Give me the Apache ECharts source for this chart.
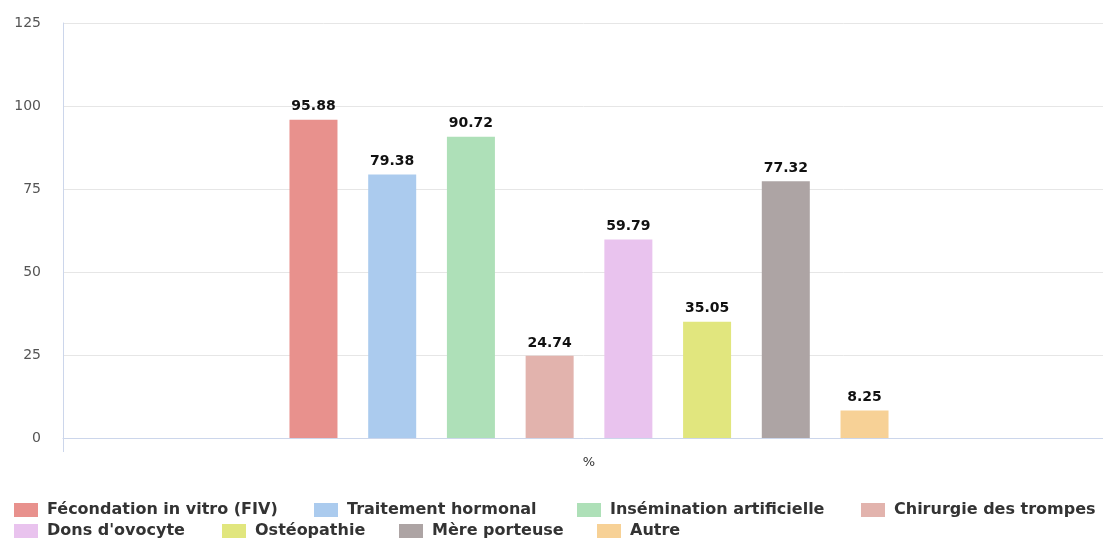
<!DOCTYPE html>
<html>
<head>
<meta charset="utf-8">
<script src="https://cdn.jsdelivr.net/npm/echarts@6/dist/echarts.min.js"></script>
<style>
  html, body { margin: 0; padding: 0; background: #fff; }
  #chart { width: 1103px; height: 541px; }
</style>
</head>
<body>
<div id="chart"></div>
<script>
var categories = ['%'];
var seriesNames = ['Fécondation in vitro (FIV)', 'Traitement hormonal', 'Insémination artificielle',
    'Chirurgie des trompes', "Dons d'ovocyte", 'Ostéopathie', 'Mère porteuse', 'Autre'];
var seriesValues = [95.88, 79.38, 90.72, 24.74, 59.79, 35.05, 77.32, 8.25];
var seriesColors = ['#e8918d', '#abcbee', '#aee0b8', '#e2b3ad', '#e9c3ee', '#e1e67e', '#ada4a4', '#f7d196'];
var yTicks = [0, 25, 50, 75, 100, 125];

// legend item placement (left px, top px), two rows as in the original
var legendLeft = [14, 314, 577, 861, 14, 222, 399, 597];
var legendTop = [502, 502, 502, 502, 523, 523, 523, 523];

var chart = echarts.init(document.getElementById('chart'));

var series = seriesNames.map(function (name, i) {
    return {
        name: name,
        type: 'bar',
        data: [seriesValues[i]],
        barWidth: 48,
        barGap: '64%',
        itemStyle: { color: seriesColors[i] },
        label: {
            show: true,
            position: 'top',
            distance: 6,
            color: '#111',
            fontWeight: 'bold',
            fontSize: 14,
            fontFamily: 'DejaVu Sans',
            formatter: function (p) { return p.value.toFixed(2); }
        }
    };
});

var legends = seriesNames.map(function (name, i) {
    return {
        left: legendLeft[i],
        top: legendTop[i],
        itemWidth: 24,
        itemHeight: 14,
        icon: 'rect',
        padding: 0,
        data: [name],
        textStyle: { fontSize: 16, fontWeight: 'bold', color: '#333', padding: [0, 0, 0, 4] }
    };
});

var option = {
    animation: false,
    textStyle: { fontFamily: 'DejaVu Sans' },
    grid: { left: 63, width: 1052, top: 23, bottom: 103, outerBoundsMode: 'none' },
    legend: legends,
    xAxis: {
        type: 'category',
        data: categories,
        axisLine: { lineStyle: { color: '#ccd6eb' } },
        axisTick: { show: true, length: 14, lineStyle: { color: '#ccd6eb' } },
        axisLabel: { color: '#333', fontSize: 13, margin: 18 }
    },
    yAxis: {
        type: 'value',
        min: yTicks[0],
        max: yTicks[yTicks.length - 1],
        interval: 25,
        axisLine: { show: true, lineStyle: { color: '#ccd6eb' } },
        axisLabel: { color: '#555', fontSize: 14, margin: 22 },
        splitLine: { lineStyle: { color: '#e6e6e6' } }
    },
    series: series
};

chart.setOption(option);
</script>
</body>
</html>
